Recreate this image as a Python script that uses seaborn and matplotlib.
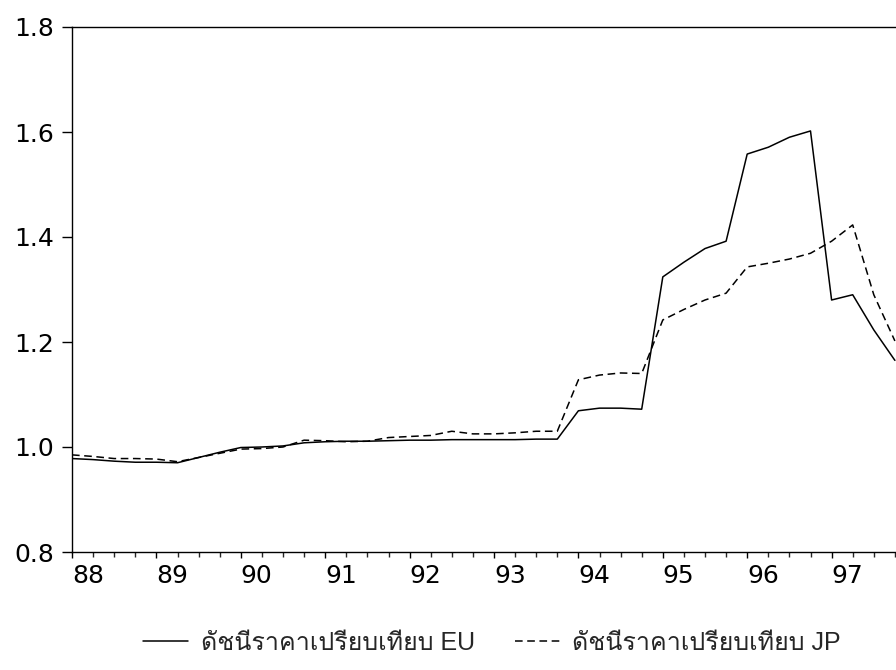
import matplotlib
matplotlib.use("Agg")
import matplotlib.pyplot as plt
from matplotlib.ticker import FixedLocator, MultipleLocator, NullFormatter
from matplotlib.font_manager import FontProperties
import numpy as np
import pandas as pd
import seaborn as sns

# Quarterly relative price indices, 1988Q1 - 1997Q4
years = ["88", "89", "90", "91", "92", "93", "94", "95", "96", "97"]
eu_index = [
    0.978, 0.976, 0.973, 0.971, 0.971, 0.970, 0.980, 0.990,   # 88-89
    0.999, 1.000, 1.002, 1.008, 1.010, 1.011, 1.011, 1.012,   # 90-91
    1.013, 1.013, 1.014, 1.014, 1.014, 1.014, 1.015, 1.015,   # 92-93
    1.069, 1.074, 1.074, 1.072, 1.324, 1.352, 1.378, 1.392,   # 94-95
    1.558, 1.571, 1.590, 1.602, 1.280, 1.290, 1.223, 1.165,   # 96-97
]
jp_index = [
    0.985, 0.982, 0.978, 0.978, 0.977, 0.972, 0.980, 0.988,
    0.996, 0.997, 1.000, 1.013, 1.012, 1.010, 1.011, 1.018,
    1.020, 1.022, 1.030, 1.025, 1.025, 1.027, 1.030, 1.030,
    1.128, 1.137, 1.141, 1.140, 1.242, 1.262, 1.280, 1.293,
    1.343, 1.350, 1.358, 1.369, 1.392, 1.423, 1.290, 1.202,
]
label_eu = "ดัชนีราคาเปรียบเทียบ EU"
label_jp = "ดัชนีราคาเปรียบเทียบ JP"

quarter = np.arange(len(eu_index))
df = pd.DataFrame({
    "quarter": np.concatenate([quarter, quarter]),
    "value": eu_index + jp_index,
    "series": [label_eu] * len(eu_index) + [label_jp] * len(jp_index),
})

sns.set_style("ticks")
plt.rcParams["font.family"] = ["DejaVu Sans"]
plt.rcParams["axes.linewidth"] = 1.0

fig = plt.figure(figsize=(8.96, 6.70), dpi=100)
ax = fig.add_axes([72 / 896, 1 - 552 / 670, 1 - 72 / 896, (552 - 27) / 670])

sns.lineplot(
    data=df, x="quarter", y="value", style="series", color="black",
    dashes={label_eu: "", label_jp: (5, 3)}, linewidth=1.1, ax=ax,
)

ax.set_xlim(0, 824 / 21.1)
ax.set_ylim(0.8, 1.8)
ax.set_xlabel("")
ax.set_ylabel("")

ax.yaxis.set_major_locator(FixedLocator([0.8, 1.0, 1.2, 1.4, 1.6, 1.8]))
ax.set_yticklabels(["0.8", "1.0", "1.2", "1.4", "1.6", "1.8"])
ax.xaxis.set_major_locator(FixedLocator(np.arange(0, 40, 4)))
ax.set_xticklabels(years)
ax.xaxis.set_minor_locator(MultipleLocator(1))
ax.xaxis.set_minor_formatter(NullFormatter())
for lab in ax.get_xticklabels():
    lab.set_horizontalalignment("left")

ax.tick_params(axis="y", direction="out", length=7, width=1.0, pad=6.0,
               labelsize=18, colors="black")
ax.tick_params(axis="x", which="major", direction="out", length=4.5, width=1.0,
               pad=4.0, labelsize=18, colors="black")
ax.tick_params(axis="x", which="minor", direction="out", length=3.5, width=1.0)

for side in ["left", "bottom", "top"]:
    ax.spines[side].set_visible(True)
    ax.spines[side].set_color("black")
ax.spines["right"].set_visible(False)

leg_font = FontProperties(family=["Liberation Sans", "Loma"], size=18)
sns.move_legend(
    ax, "center", bbox_to_anchor=(0.549, 0.040), bbox_transform=fig.transFigure,
    ncol=2, frameon=False, title=None, prop=leg_font,
    handlelength=1.8, handletextpad=0.5, columnspacing=1.6,
)

fig.savefig("out.png", dpi=100)
